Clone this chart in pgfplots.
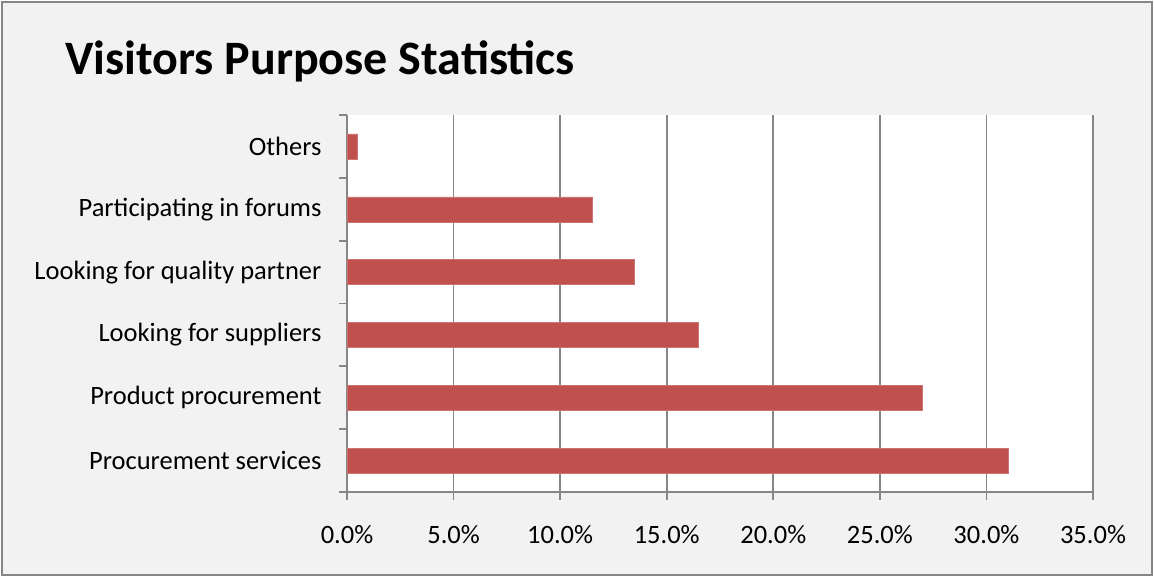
\documentclass[border=0pt]{standalone}
\usepackage{pgfplots}
\pgfplotsset{compat=1.18}
\usepackage{fontspec}
\setmainfont{Carlito}
\definecolor{barred}{HTML}{C0504D}
\definecolor{gridgray}{HTML}{868686}
\definecolor{bggray}{HTML}{F2F2F2}
\begin{document}
\begin{tikzpicture}
\useasboundingbox (0bp,0bp) rectangle (1154bp,577bp);
\draw[gridgray, line width=2bp, fill=bggray] (2bp,2bp) rectangle (1152bp,575bp);
\node[anchor=base west, inner sep=0pt, font=\fontsize{48bp}{54bp}\selectfont\bfseries] at (65bp,502bp) {Visitors Purpose Statistics};
\begin{axis}[
  at={(347bp,85bp)}, anchor=south west,
  scale only axis, width=746bp, height=377bp,
  xbar, bar width=25bp,
  xmin=0, xmax=35, ymin=-0.5, ymax=5.5,
  axis x line=bottom, axis y line=left,
  axis line style={-, gridgray, line width=1.8bp},
  axis background/.style={fill=white},
  xmajorgrids, grid style={gridgray, line width=1.8bp},
  tick align=outside, major tick length=8bp,
  tick style={gridgray, line width=1.8bp},
  xtick={0,5,...,35},
  xticklabel={\pgfmathprintnumber[fixed,fixed zerofill,precision=1]{\tick}\%},
  ytick={-0.5,0.5,...,5.5},
  yticklabels={Procurement services,Product procurement,Looking for suppliers,Looking for quality partner,Participating in forums,Others,{}},
  tick label style={font=\fontsize{26.5bp}{30bp}\selectfont, text=black},
  /pgf/number format/assume math mode=true,
  xticklabel style={yshift=-22bp},
  yticklabel style={xshift=-14bp, yshift=31.4bp},
]
\addplot[fill=barred, draw=barred!80!white, line width=0.5bp] coordinates {
  (31.0,0) (27.0,1) (16.5,2) (13.5,3) (11.5,4) (0.5,5)
};
\end{axis}
\end{tikzpicture}
\end{document}
